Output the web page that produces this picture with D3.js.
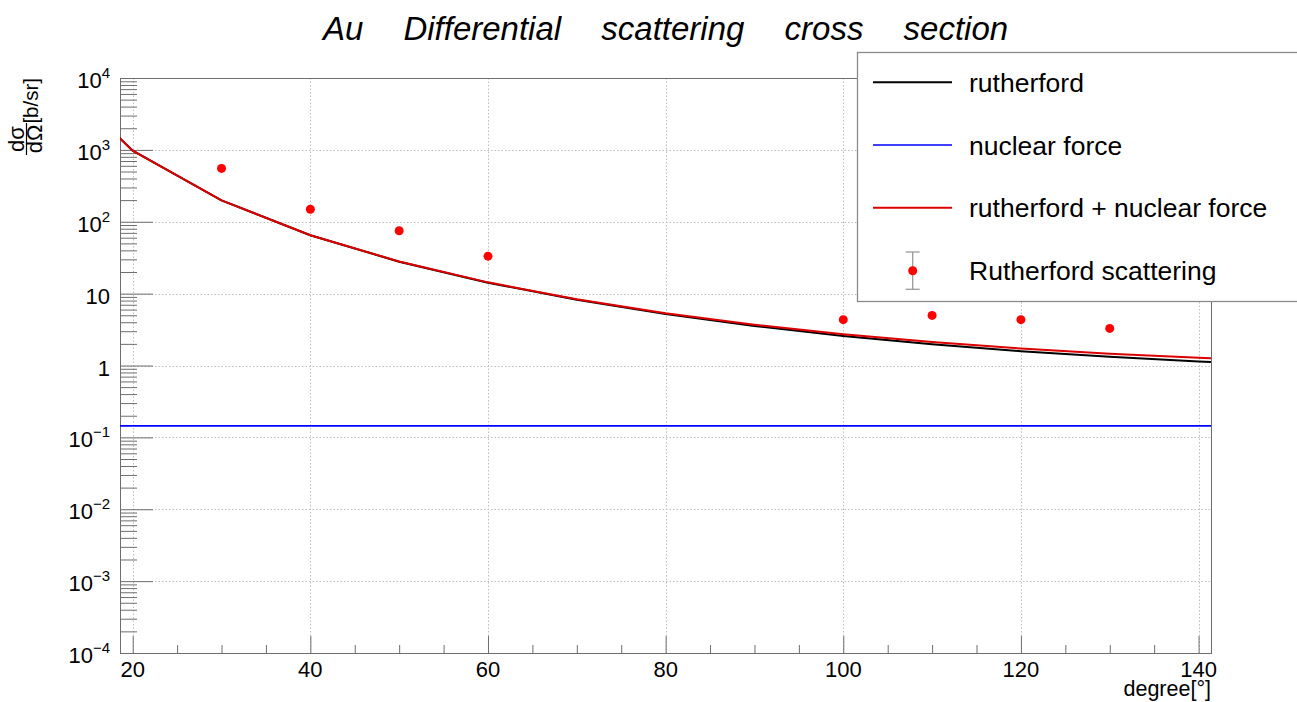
<!DOCTYPE html>
<html>
<head>
<meta charset="utf-8">
<script src="https://cdn.jsdelivr.net/npm/d3@7/dist/d3.min.js"></script>
<style>
  html, body { margin: 0; padding: 0; background: #fff; }
  svg { display: block; font-family: "Liberation Sans", Arial, Helvetica, sans-serif; }
</style>
</head>
<body>
<svg id="chart" width="1297" height="702"></svg>
<script>
// Scattering angle grid of the model curves (degrees)
const modelAngles = [10, 20, 30, 40, 50, 60, 70, 80, 90, 100, 110, 120, 130, 140, 150];
// Rutherford cross section (b/sr)
const rutherford = [15390, 977, 198, 64.9, 27.8, 14.2, 8.2, 5.2, 3.55, 2.58, 1.97, 1.58, 1.32, 1.14, 1.02];
// Nuclear force contribution (b/sr)
const nuclearForce = [0.145, 0.145, 0.145, 0.145, 0.145, 0.145, 0.145, 0.145, 0.145, 0.145, 0.145, 0.145, 0.145, 0.145, 0.145];
// Rutherford + nuclear force (b/sr)
const combined = [15390, 977, 198, 65.0, 28.0, 14.35, 8.35, 5.35, 3.70, 2.72, 2.12, 1.72, 1.46, 1.28, 1.17];

// Measured points
const measAngles = [30, 40, 50, 60, 100, 110, 120, 130];
const measValues = [552, 149, 75, 33.2, 4.34, 4.98, 4.34, 3.28];

// Axis ticks
const xMajorTicks = [20, 40, 60, 80, 100, 120, 140];
const yDecades = [-4, -3, -2, -1, 0, 1, 2, 3, 4];

const legendLabels = ["rutherford", "nuclear force", "rutherford + nuclear force", "Rutherford scattering"];

const svg = d3.select("#chart");
const frame = { left: 120, right: 1211, top: 78, bottom: 653 };

const x = d3.scaleLinear().domain([18.57, 141.4]).range([frame.left, frame.right]);
const y = d3.scaleLog().domain([1e-4, 1e4]).range([frame.bottom, frame.top]);

svg.append("defs").append("clipPath").attr("id", "plotClip")
  .append("rect")
  .attr("x", frame.left).attr("y", frame.top)
  .attr("width", frame.right - frame.left).attr("height", frame.bottom - frame.top);

// Grid
const grid = svg.append("g").attr("stroke", "#bdbdbd").attr("stroke-width", 1).attr("stroke-dasharray", "1.5,2");
grid.selectAll("line.vx").data(xMajorTicks).join("line")
  .attr("x1", d => Math.round(x(d)) + 0.5).attr("x2", d => Math.round(x(d)) + 0.5)
  .attr("y1", frame.top).attr("y2", frame.bottom);
grid.selectAll("line.hy").data(yDecades.slice(1, -1)).join("line")
  .attr("x1", frame.left).attr("x2", frame.right)
  .attr("y1", d => Math.round(y(Math.pow(10, d))) + 0.5).attr("y2", d => Math.round(y(Math.pow(10, d))) + 0.5);

// Frame
svg.append("rect")
  .attr("x", frame.left + 0.5).attr("y", frame.top + 0.5)
  .attr("width", frame.right - frame.left).attr("height", frame.bottom - frame.top)
  .attr("fill", "none").attr("stroke", "#6e6e6e").attr("stroke-width", 1);

// X axis ticks
const xAxis = d3.axisBottom(x).tickValues(d3.range(20, 141, 5)).tickSize(0).tickFormat("");
const xAxisG = svg.append("g").attr("transform", `translate(0,${frame.bottom})`).call(xAxis);
xAxisG.select(".domain").remove();
xAxisG.selectAll(".tick line")
  .attr("y2", d => (d % 20 === 0 ? -17 : -8))
  .attr("stroke", "#6e6e6e");
svg.append("g").selectAll("text").data(xMajorTicks).join("text")
  .attr("x", d => x(d)).attr("y", 677)
  .attr("text-anchor", "middle").attr("font-size", 22).attr("fill", "#000")
  .text(d => d);

// Y axis ticks (decades and minor 2..9)
const yMinor = [];
for (let k = -4; k < 4; k++) for (let m = 2; m <= 9; m++) yMinor.push(m * Math.pow(10, k));
const yAxisG = svg.append("g").attr("transform", `translate(${frame.left},0)`)
  .call(d3.axisRight(y).tickValues(yMinor.concat(yDecades.map(d => Math.pow(10, d)))).tickSize(0).tickFormat(""));
yAxisG.select(".domain").remove();
yAxisG.selectAll(".tick line")
  .attr("x2", d => (Math.abs(Math.log10(d) - Math.round(Math.log10(d))) < 1e-9 ? 33 : 17))
  .attr("stroke", "#6e6e6e");

// Y tick labels: 10^k with superscript, plain "1" and "10"
const yLab = svg.append("g").attr("font-size", 22).attr("fill", "#000");
yDecades.forEach(k => {
  const ty = y(Math.pow(10, k));
  const t = yLab.append("text").attr("x", 110).attr("y", ty + 10).attr("text-anchor", "end");
  if (k === 0) t.text("1");
  else if (k === 1) t.text("10");
  else {
    t.append("tspan").text("10");
    t.append("tspan").attr("font-size", 15).attr("dy", -10).text(k < 0 ? "\u2212" + (-k) : String(k));
  }
});

// Curves
const line = d3.line().x(d => x(d[0])).y(d => y(d[1]));
const curves = svg.append("g").attr("clip-path", "url(#plotClip)").attr("fill", "none");
curves.append("path").datum(d3.zip(modelAngles, rutherford))
  .attr("d", line).attr("stroke", "#000").attr("stroke-width", 2);
curves.append("path").datum(d3.zip(modelAngles, nuclearForce))
  .attr("d", line).attr("stroke", "#0000ff").attr("stroke-width", 1.7);
curves.append("path").datum(d3.zip(modelAngles, combined))
  .attr("d", line).attr("stroke", "#dd0000").attr("stroke-width", 2);

// Measured points
svg.append("g").selectAll("circle").data(d3.zip(measAngles, measValues)).join("circle")
  .attr("cx", d => x(d[0])).attr("cy", d => y(d[1])).attr("r", 4.5)
  .attr("fill", "#ff0000");

// Title
svg.append("text")
  .attr("x", (frame.left + frame.right) / 2).attr("y", 40)
  .attr("text-anchor", "middle").attr("font-size", 33).attr("font-style", "italic")
  .attr("word-spacing", 31).attr("fill", "#000")
  .text("Au Differential scattering cross section");

// X axis title
svg.append("text")
  .attr("x", frame.right).attr("y", 696)
  .attr("text-anchor", "end").attr("font-size", 21.5).attr("fill", "#000")
  .text("degree[\u00b0]");

// Y axis title: fraction dσ/dΩ followed by [b/sr], rotated
const yt = svg.append("g").attr("transform", `translate(0,${frame.top}) rotate(-90)`).attr("fill", "#000");
yt.append("text").attr("x", 0).attr("y", 38).attr("text-anchor", "end").attr("font-size", 20.5).text("[b/sr]");
const fracCenter = -61;
yt.append("text").attr("x", fracCenter).attr("y", 24).attr("text-anchor", "middle").attr("font-size", 22).text("d\u03c3");
yt.append("text").attr("x", fracCenter).attr("y", 42).attr("text-anchor", "middle").attr("font-size", 22).text("d\u03a9");
yt.append("line").attr("x1", fracCenter - 16).attr("x2", fracCenter + 16).attr("y1", 26.5).attr("y2", 26.5)
  .attr("stroke", "#000").attr("stroke-width", 1.2);

// Legend
const lg = svg.append("g");
lg.append("rect").attr("x", 857.5).attr("y", 52.5).attr("width", 460).attr("height", 249)
  .attr("fill", "#fff").attr("stroke", "#8a8a8a").attr("stroke-width", 1.3);
const rowY = [82.3, 145, 207.7, 270.7];
const rowColor = ["#000", "#0000ff", "#dd0000"];
rowColor.forEach((c, i) => {
  lg.append("line").attr("x1", 873).attr("x2", 952).attr("y1", rowY[i]).attr("y2", rowY[i])
    .attr("stroke", c).attr("stroke-width", i === 1 ? 1.7 : 2);
});
const eb = lg.append("g").attr("stroke", "#9a9a9a").attr("stroke-width", 1.3);
eb.append("line").attr("x1", 912.7).attr("x2", 912.7).attr("y1", 252).attr("y2", 289.3);
eb.append("line").attr("x1", 905.7).attr("x2", 919.7).attr("y1", 252).attr("y2", 252);
eb.append("line").attr("x1", 905.7).attr("x2", 919.7).attr("y1", 289.3).attr("y2", 289.3);
lg.append("circle").attr("cx", 912.7).attr("cy", rowY[3]).attr("r", 4.5).attr("fill", "#ff0000");
lg.selectAll("text.lab").data(legendLabels).join("text")
  .attr("x", 969).attr("y", (d, i) => rowY[i] + 9.6)
  .attr("font-size", 26.5).attr("fill", "#000")
  .text(d => d);
</script>
</body>
</html>
